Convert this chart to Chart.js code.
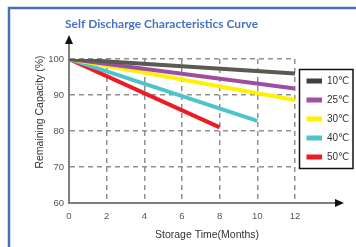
<!DOCTYPE html>
<html>
<head>
<meta charset="utf-8">
<script src="https://cdn.jsdelivr.net/npm/chart.js@4.4.1/dist/chart.umd.min.js"></script>
<style>
  html, body { margin: 0; padding: 0; background: #fff; }
</style>
</head>
<body>
<canvas id="myChart" width="356" height="247"></canvas>
<script>
// data (start / end of each straight line)
const seriesNames = ['10℃', '25℃', '30℃', '40℃', '50℃'];
const months10 = [0, 12];
const cap10 = [100, 96];
const months25 = [0, 12];
const cap25 = [100, 91.8];
const months30 = [0, 12];
const cap30 = [100, 88.6];
const months40 = [0, 10];
const cap40 = [100, 82.8];
const months50 = [0, 8];
const cap50 = [100, 81];
const xTicks = [0, 2, 4, 6, 8, 10, 12];
const yTicks = [60, 70, 80, 90, 100];

const lineColors = ['#5a5a52', '#9d4e9f', '#fff200', '#4cc3cd', '#ed1c24'];
const swatchColors = ['#404040', '#a0519f', '#fff200', '#4cc3cd', '#ed1c24'];

function toPoints(xs, ys) {
  var pts = [];
  for (var i = 0; i < xs.length; i++) {
    pts.push({ x: xs[i], y: ys[i] });
  }
  return pts;
}

const allMonths = [months10, months25, months30, months40, months50];
const allCaps = [cap10, cap25, cap30, cap40, cap50];
var datasets = [];
for (var i = 0; i < seriesNames.length; i++) {
  datasets.push({
    label: seriesNames[i],
    data: toPoints(allMonths[i], allCaps[i]),
    borderColor: lineColors[i],
    backgroundColor: swatchColors[i],
    borderWidth: 4,
    pointRadius: 0,
    fill: false,
    tension: 0
  });
}

const tickFont = { family: 'Liberation Sans, Arial, sans-serif', size: 9.5 };

// frame, arrows, titles and boxed legend
const decor = {
  id: 'decor',
  beforeDraw(chart) {
    const c = chart.ctx;
    c.save();
    c.strokeStyle = '#4a6fb7';
    c.lineWidth = 2.5;
    c.beginPath();
    c.moveTo(9, 260);
    c.lineTo(9, 8);
    c.lineTo(370, 8);
    c.stroke();
    c.restore();
  },
  afterDraw(chart) {
    const c = chart.ctx;
    const a = chart.chartArea;
    c.save();
    // axis arrows
    c.strokeStyle = '#7f7f7f';
    c.lineWidth = 2;
    c.beginPath();
    c.moveTo(a.left, a.top);
    c.lineTo(a.left, 41);
    c.moveTo(a.right, a.bottom);
    c.lineTo(338, a.bottom);
    c.stroke();
    c.fillStyle = '#111';
    c.beginPath();
    c.moveTo(a.left, 35);
    c.lineTo(a.left - 4, 44);
    c.lineTo(a.left + 4, 44);
    c.closePath();
    c.fill();
    c.beginPath();
    c.moveTo(344, a.bottom);
    c.lineTo(335, a.bottom - 4);
    c.lineTo(335, a.bottom + 4);
    c.closePath();
    c.fill();

    // chart title
    c.fillStyle = '#4472c4';
    c.font = 'bold 12px Lato, "Open Sans", sans-serif';
    c.textAlign = 'left';
    c.textBaseline = 'middle';
    c.fillText('Self Discharge Characteristics Curve', 65, 24);

    // axis titles
    c.fillStyle = '#333';
    c.font = '10.5px "Liberation Sans", Arial, sans-serif';
    c.textAlign = 'center';
    c.fillText('Storage Time(Months)', 207, 235);
    c.save();
    c.translate(40, 112);
    c.rotate(-Math.PI / 2);
    c.fillText('Remaining Capacity (%)', 0, 0);
    c.restore();

    // legend box
    c.strokeStyle = '#111';
    c.lineWidth = 1.5;
    c.strokeRect(299.5, 69.5, 53.5, 99);
    c.font = '10px "Liberation Sans", "DejaVu Sans", sans-serif';
    c.textAlign = 'left';
    const ds = chart.data.datasets;
    for (var k = 0; k < ds.length; k++) {
      var y = 81 + k * 19;
      c.fillStyle = ds[k].backgroundColor;
      c.fillRect(306.5, y - 2.5, 15.5, 5);
      c.fillStyle = '#333';
      c.fillText(ds[k].label, 327, y + 0.5);
    }
    c.restore();
  }
};

const myChart = new Chart(document.getElementById('myChart'), {
  type: 'line',
  data: { datasets: datasets },
  options: {
    responsive: false,
    animation: false,
    layout: { padding: { top: 59, right: 61, left: 0, bottom: 0 } },
    plugins: {
      legend: { display: false },
      title: { display: false },
      tooltip: { enabled: false }
    },
    scales: {
      x: {
        type: 'linear',
        min: 0,
        max: 12,
        afterBuildTicks: s => { s.ticks = xTicks.map(v => ({ value: v })); },
        afterFit: s => { s.height = 44; },
        ticks: { color: '#555', font: tickFont, padding: 8, maxRotation: 0 },
        grid: { color: '#8f8f8f', lineWidth: 1.5, drawTicks: false },
        border: { color: '#7f7f7f', width: 2, dash: [5, 4] }
      },
      y: {
        min: 60,
        max: 100,
        afterBuildTicks: s => { s.ticks = yTicks.map(v => ({ value: v })); },
        afterFit: s => { s.width = 69; },
        ticks: { color: '#555', font: tickFont, padding: 5 },
        grid: { color: '#8f8f8f', lineWidth: 1.5, drawTicks: false },
        border: { color: '#7f7f7f', width: 2, dash: [5, 4] }
      }
    }
  },
  plugins: [decor]
});
</script>
</body>
</html>
